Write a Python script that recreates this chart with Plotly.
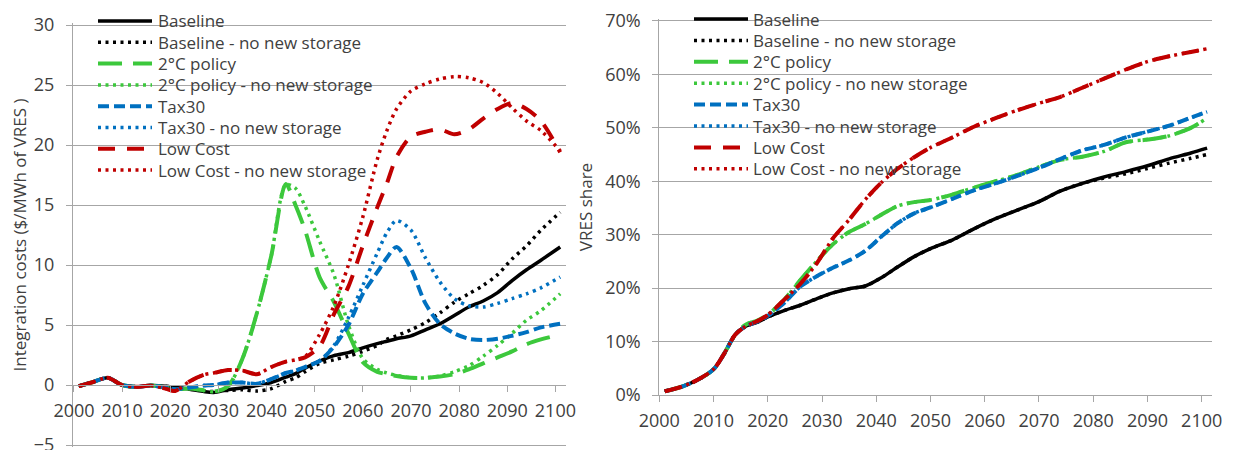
import plotly.graph_objects as go

# ---------------- data: left chart (integration costs, $/MWh of VRES) -------------
years_cost = [2001, 2004, 2007, 2010, 2013, 2016, 2019, 2021, 2024, 2027, 2029, 2032,
              2035, 2038, 2041, 2044, 2046, 2048, 2051, 2054, 2057, 2060, 2063, 2065,
              2067, 2070, 2073, 2076, 2079, 2082, 2085, 2088, 2091, 2094, 2097, 2101]

cost_baseline = [-0.1, 0.25, 0.6, 0.0, -0.15, -0.05, -0.1, -0.2, -0.35, -0.55, -0.62, -0.4,
                 -0.25, -0.05, 0.2, 0.65, 0.95, 1.4, 2.0, 2.45, 2.7, 3.1, 3.45, 3.65,
                 3.85, 4.1, 4.6, 5.1, 5.8, 6.5, 7.0, 7.7, 8.7, 9.6, 10.4, 11.5]
cost_baseline_ns = [-0.1, 0.25, 0.6, 0.0, -0.15, -0.05, -0.1, -0.2, -0.35, -0.5, -0.55, -0.45,
                    -0.4, -0.5, -0.3, 0.3, 0.6, 1.1, 1.8, 2.1, 2.4, 2.8, 3.3, 3.8,
                    4.1, 4.6, 5.2, 6.0, 6.9, 7.6, 8.3, 9.2, 10.5, 11.6, 12.9, 14.4]
cost_2c = [-0.1, 0.25, 0.6, 0.0, -0.15, -0.05, -0.2, -0.35, -0.3, -0.45, -0.55, -0.1,
           2.2, 6.0, 10.8, 16.75, 15.0, 12.9, 9.0, 6.9, 4.3, 1.9, 1.1, 0.9,
           0.75, 0.6, 0.6, 0.7, 0.9, 1.3, 1.8, 2.3, 2.8, 3.4, 3.8, 4.2]
cost_2c_ns = [-0.1, 0.25, 0.6, 0.0, -0.15, -0.05, -0.2, -0.35, -0.3, -0.45, -0.55, -0.1,
              2.2, 6.0, 10.8, 16.7, 16.4, 14.9, 12.0, 9.2, 5.0, 2.2, 1.3, 1.0,
              0.8, 0.6, 0.6, 0.75, 1.1, 1.6, 2.4, 3.3, 4.3, 5.4, 6.2, 7.6]
cost_tax30 = [-0.1, 0.25, 0.6, 0.0, -0.15, -0.05, -0.2, -0.35, -0.2, -0.05, 0.0, 0.2,
              0.2, 0.1, 0.5, 1.0, 1.2, 1.5, 2.0, 3.2, 5.0, 7.6, 9.4, 10.6,
              11.5, 9.7, 6.8, 5.1, 4.3, 3.85, 3.75, 3.85, 4.1, 4.4, 4.8, 5.1]
cost_tax30_ns = [-0.1, 0.25, 0.6, 0.0, -0.15, -0.05, -0.2, -0.35, -0.2, -0.05, 0.0, 0.2,
                 0.2, 0.1, 0.5, 1.0, 1.2, 1.5, 2.0, 3.3, 5.6, 8.3, 11.0, 12.7,
                 13.7, 12.9, 10.6, 8.6, 7.2, 6.6, 6.5, 6.8, 7.2, 7.6, 8.1, 9.0]
cost_lowcost = [-0.1, 0.25, 0.6, 0.0, -0.15, -0.05, -0.3, -0.5, 0.3, 0.85, 1.0, 1.25,
                1.2, 0.9, 1.5, 1.95, 2.1, 2.3, 3.2, 5.9, 8.2, 11.6, 14.8, 16.8,
                19.0, 20.7, 21.1, 21.3, 20.9, 21.3, 22.2, 23.0, 23.5, 23.0, 22.0, 19.4]
cost_lowcost_ns = [-0.1, 0.25, 0.6, 0.0, -0.15, -0.05, -0.3, -0.5, 0.3, 0.85, 1.0, 1.25,
                   1.2, 0.9, 1.5, 1.95, 2.1, 2.36, 4.2, 6.6, 10.0, 14.0, 18.8, 21.2,
                   23.0, 24.5, 25.1, 25.5, 25.7, 25.6, 25.2, 24.3, 23.1, 22.0, 21.2, 19.5]

# ---------------- data: right chart (VRES share, %) -------------
years_share = [2001, 2004, 2007, 2010, 2012, 2014, 2016, 2018, 2020, 2023, 2026, 2029,
               2032, 2035, 2038, 2041, 2044, 2047, 2050, 2054, 2058, 2062, 2066, 2070,
               2074, 2078, 2082, 2086, 2090, 2094, 2098, 2101]

share_baseline = [0.7, 1.5, 2.8, 4.8, 7.8, 11.3, 12.9, 13.6, 14.6, 15.8, 16.8, 18.0,
                  19.1, 19.9, 20.4, 22.0, 24.0, 25.9, 27.4, 29.0, 31.1, 33.0, 34.6, 36.2,
                  38.2, 39.6, 40.8, 41.8, 42.9, 44.2, 45.3, 46.2]
share_baseline_ns = [0.7, 1.5, 2.8, 4.8, 7.8, 11.3, 12.9, 13.6, 14.6, 15.8, 16.8, 18.0,
                     19.1, 19.9, 20.4, 22.0, 24.0, 25.9, 27.4, 29.0, 31.1, 33.0, 34.6, 36.2,
                     38.2, 39.6, 40.6, 41.4, 42.4, 43.4, 44.3, 45.0]
share_2c = [0.7, 1.5, 2.8, 4.8, 7.8, 11.3, 13.2, 13.9, 15.0, 17.8, 21.5, 25.0,
            28.2, 30.5, 32.0, 33.8, 35.4, 36.1, 36.5, 37.5, 38.8, 40.0, 41.2, 42.7,
            44.0, 44.6, 45.6, 47.3, 47.8, 48.5, 50.0, 51.8]
share_2c_ns = [0.7, 1.5, 2.8, 4.8, 7.8, 11.3, 13.2, 13.9, 15.0, 17.8, 21.5, 25.0,
               28.2, 30.5, 32.0, 33.8, 35.4, 36.1, 36.5, 37.5, 38.8, 40.0, 41.2, 42.7,
               44.0, 44.6, 45.6, 47.3, 47.8, 48.5, 50.0, 51.8]
share_tax30 = [0.7, 1.5, 2.8, 4.8, 7.8, 11.3, 12.9, 13.7, 14.8, 17.2, 20.3, 22.2,
               23.8, 25.2, 27.0, 29.7, 32.2, 34.0, 35.1, 36.7, 38.3, 39.6, 41.0, 42.5,
               44.2, 45.8, 46.8, 48.2, 49.3, 50.4, 51.9, 53.0]
share_tax30_ns = [0.7, 1.5, 2.8, 4.8, 7.8, 11.3, 12.9, 13.7, 14.8, 17.2, 20.3, 22.2,
                  23.8, 25.2, 27.0, 29.7, 32.2, 34.0, 35.1, 36.7, 38.3, 39.6, 41.0, 42.5,
                  44.2, 45.8, 46.8, 48.2, 49.3, 50.4, 51.9, 53.0]
share_lowcost = [0.7, 1.5, 2.8, 4.8, 7.8, 11.3, 12.9, 13.8, 15.0, 17.8, 20.8, 24.6,
                 29.3, 32.8, 36.6, 39.8, 42.4, 44.5, 46.3, 48.2, 50.2, 51.8, 53.3, 54.6,
                 55.8, 57.5, 59.2, 60.9, 62.4, 63.4, 64.2, 64.8]
share_lowcost_ns = [0.7, 1.5, 2.8, 4.8, 7.8, 11.3, 12.9, 13.8, 15.0, 17.8, 20.8, 24.6,
                    29.3, 32.8, 36.6, 39.8, 42.4, 44.5, 46.3, 48.2, 50.2, 51.8, 53.3, 54.6,
                    55.8, 57.5, 59.2, 60.9, 62.4, 63.4, 64.2, 64.8]

series_names = ["Baseline", "Baseline - no new storage", "2°C policy",
                "2°C policy - no new storage", "Tax30", "Tax30 - no new storage",
                "Low Cost", "Low Cost - no new storage"]
tick_years = [2000, 2010, 2020, 2030, 2040, 2050, 2060, 2070, 2080, 2090, 2100]

# ---------------- styles -------------
BLACK, GREEN, BLUE, RED = "#000000", "#3CC83C", "#0070C0", "#C00000"
DOT = "3px,4.5px"
styles = [
    dict(color=BLACK, width=3.5, dash="solid"),
    dict(color=BLACK, width=3.5, dash=DOT),
    dict(color=GREEN, width=4, dash="24px,11px"),
    dict(color=GREEN, width=3.5, dash=DOT),
    dict(color=BLUE, width=4, dash="11px,5px"),
    dict(color=BLUE, width=3.5, dash=DOT),
    dict(color=RED, width=4, dash="17px,12px"),
    dict(color=RED, width=3.5, dash=DOT),
]

cost_series = [cost_baseline, cost_baseline_ns, cost_2c, cost_2c_ns,
               cost_tax30, cost_tax30_ns, cost_lowcost, cost_lowcost_ns]
share_series = [share_baseline, share_baseline_ns, share_2c, share_2c_ns,
                share_tax30, share_tax30_ns, share_lowcost, share_lowcost_ns]

fig = go.Figure()
for name, vals, st in zip(series_names, cost_series, styles):
    fig.add_trace(go.Scatter(x=years_cost, y=vals, name=name, mode="lines",
                             line=dict(shape="spline", smoothing=0.8, **st),
                             xaxis="x", yaxis="y", showlegend=False))
for name, vals, st in zip(series_names, share_series, styles):
    fig.add_trace(go.Scatter(x=years_share, y=[v / 100 for v in vals], name=name,
                             mode="lines",
                             line=dict(shape="spline", smoothing=0.8, **st),
                             xaxis="x2", yaxis="y2", showlegend=False))

GRID = "#A6A6A6"
FAMILY = "Open Sans, sans-serif"
FONT = dict(family=FAMILY, size=17, color="#404040")
TICKFONT = dict(family=FAMILY, size=18, color="#404040")
W, H = 1237, 450

common_x = dict(tickmode="array", tickvals=tick_years, showgrid=False, zeroline=False,
                showline=True, linecolor=GRID, linewidth=1, ticks="outside",
                ticklen=6, tickcolor=GRID, tickfont=TICKFONT, ticklabelstandoff=3,
                automargin=False)
common_y = dict(showgrid=True, gridcolor=GRID, gridwidth=1, zeroline=False,
                showline=True, linecolor=GRID, linewidth=1, ticks="outside",
                ticklen=6, tickcolor=GRID, tickfont=TICKFONT, ticklabelstandoff=8,
                ticklabeloverflow="allow", automargin=False)

# ---------------- in-plot legends (text + line samples) -------------
shapes, annotations = [], []
legend_specs = [  # (sample x0, sample x1, text x, first row y, row step) in px
    (98, 152, 157, 21, 21.3),
    (694, 748, 752, 19, 21.4),
]
for (lx0, lx1, tx, ry0, step) in legend_specs:
    for i, (name, st) in enumerate(zip(series_names, styles)):
        yrow = (H - (ry0 + i * step)) / H
        shapes.append(dict(type="line", xref="paper", yref="paper",
                           x0=lx0 / W, x1=lx1 / W, y0=yrow, y1=yrow,
                           line=dict(color=st["color"], width=st["width"],
                                     dash=st["dash"])))
        annotations.append(dict(text=name, xref="paper", yref="paper",
                                x=tx / W, y=yrow, xanchor="left", yanchor="middle",
                                showarrow=False, font=FONT, borderpad=0))

# left plot: 30 at y=25px, -5 at y=445px (12 px per unit); pad 0.15 unit each side
# right plot: 70% at y=21px, 0% at y=395px; pad 2px at top
fig.update_layout(
    width=W, height=H, autosize=False,
    margin=dict(l=0, r=0, t=0, b=0),
    paper_bgcolor="white", plot_bgcolor="white",
    font=FONT,
    showlegend=False,
    xaxis=dict(domain=[73 / W, 566 / W], range=[1999.8, 2102.2], anchor="free",
               position=(H - 385) / H, **common_x),
    yaxis=dict(domain=[(H - 446.8) / H, (H - 23.2) / H], range=[-5.15, 30.15], dtick=5,
               tick0=0, anchor="x",
               title=dict(text="Integration costs ($/MWh of VRES )", font=FONT,
                          standoff=2),
               **common_y),
    xaxis2=dict(domain=[659.3 / W, 1212 / W], range=[2000, 2101.9], anchor="y2",
                **common_x),
    yaxis2=dict(domain=[(H - 395) / H, (H - 19) / H], range=[0, 0.7037], dtick=0.1,
                tick0=0, tickformat=".0%", anchor="x2",
                title=dict(text="VRES share", font=FONT, standoff=8),
                **common_y),
    shapes=shapes,
    annotations=annotations,
)

fig.write_html("out.html", config={"displayModeBar": False},
               post_script="document.body.style.margin='0';")
